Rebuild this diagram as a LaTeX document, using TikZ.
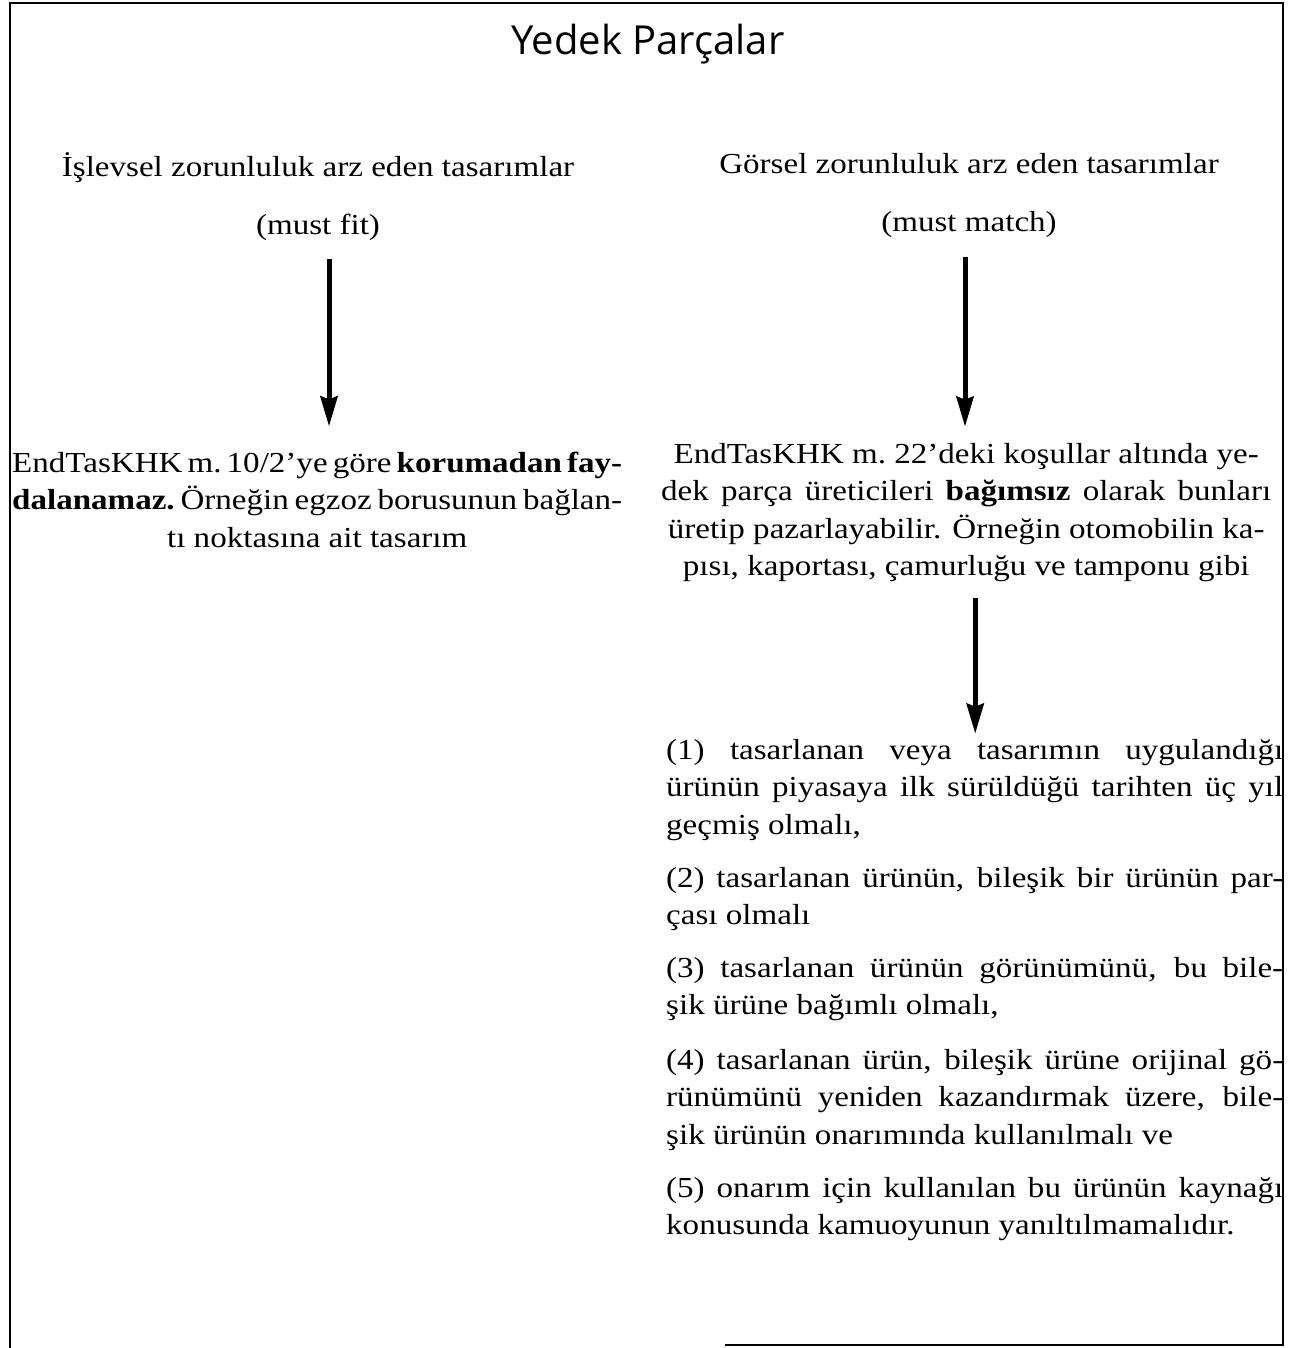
\documentclass[tikz,border=0pt]{standalone}
\usepackage{fontspec}
\setmainfont[FakeStretch=1.14]{Liberation Serif}
\newfontfamily\titlefont{Open Sans}
\usetikzlibrary{arrows.meta}

% a line whose word spaces are stretched (or squeezed) to a given width
\newcommand{\jline}[2][\linewidth]{\makebox[#1][s]{#2}}
% the same, with tighter word spaces for lines that are too long
\newcommand{\tightline}[1]{{\spaceskip=0.17em plus 0.5em minus 0.05em\jline{#1}}}

\begin{document}
\begin{tikzpicture}[x=1pt,y=-1pt,
  body/.style={inner sep=0pt, font=\fontsize{29}{37.5}\selectfont},
  textline/.style={body, anchor=base},
  block/.style={body, anchor=base west},
  downarrow/.style={line width=5pt, -{Stealth[width=17pt,length=30pt,inset=3pt]}},
  frame/.style={line width=2.6pt, black}]
\useasboundingbox (0,0) rectangle (1306,1348);

% open frame around the whole scheme
\draw[frame] (10,1348) -- (10,3) -- (1283,3) -- (1283,1345);
\draw[line width=1.6pt] (725,1345) -- (1284,1345);

% title
\node[inner sep=0pt, anchor=base, font=\titlefont\fontsize{40}{44}\selectfont] (title) at (648,55) {Yedek Parçalar};

% left branch
\node[textline] (h1) at (318,177) {İşlevsel zorunluluk arz eden tasarımlar};
\node[textline] (m1) at (318,235) {(must fit)};
\node[block] (b1) at (12,472) {\begin{minipage}[t]{610pt}\centering
\tightline{EndTasKHK m.\ 10/2’ye göre \textbf{korumadan fay-}}\\
\tightline{\textbf{dalanamaz.}\ Örneğin egzoz borusunun bağlan-}\\
tı noktasına ait tasarım\end{minipage}};

% right branch
\node[textline] (h2) at (969,174) {Görsel zorunluluk arz eden tasarımlar};
\node[textline] (m2) at (969,232) {(must match)};
\node[block] (b2) at (656,463) {\begin{minipage}[t]{620pt}\centering
EndTasKHK m.\ 22’deki koşullar altında ye-\\
\jline[610pt]{dek parça üreticileri \textbf{bağımsız} olarak bunları}\\
üretip pazarlayabilir. Örneğin otomobilin ka-\\
pısı, kaportası, çamurluğu ve tamponu gibi\end{minipage}};

% conditions
\node[block] (c1) at (666,759) {\begin{minipage}[t]{617pt}\raggedright
\jline{(1) tasarlanan veya tasarımın uygulandığı}\\
\jline{ürünün piyasaya ilk sürüldüğü tarihten üç yıl}\\
geçmiş olmalı,\end{minipage}};
\node[block] (c2) at (666,887) {\begin{minipage}[t]{617pt}\raggedright
\jline{(2) tasarlanan ürünün, bileşik bir ürünün par-}\\
çası olmalı\end{minipage}};
\node[block] (c3) at (666,977) {\begin{minipage}[t]{617pt}\raggedright
\jline{(3) tasarlanan ürünün görünümünü, bu bile-}\\
şik ürüne bağımlı olmalı,\end{minipage}};
\node[block] (c4) at (666,1069) {\begin{minipage}[t]{617pt}\raggedright
\jline{(4) tasarlanan ürün, bileşik ürüne orijinal gö-}\\
\jline{rünümünü yeniden kazandırmak üzere, bile-}\\
şik ürünün onarımında kullanılmalı ve\end{minipage}};
\node[block] (c5) at (666,1197) {\begin{minipage}[t]{617pt}\raggedright
\jline{(5) onarım için kullanılan bu ürünün kaynağı}\\
konusunda kamuoyunun yanıltılmamalıdır.\end{minipage}};

% arrows
\draw[downarrow, shorten <=18pt, shorten >=25pt]
  ([xshift=11pt]m1.south) -- ([xshift=11pt]m1.south |- b1.north);
\draw[downarrow, shorten <=19pt, shorten >=16pt]
  ([xshift=-4pt]m2.south) -- ([xshift=-4pt]m2.south |- b2.north);
\draw[downarrow, shorten <=16pt, shorten >=5pt]
  ([xshift=9pt]b2.south) -- ([xshift=9pt]b2.south |- c1.north);
\end{tikzpicture}
\end{document}
